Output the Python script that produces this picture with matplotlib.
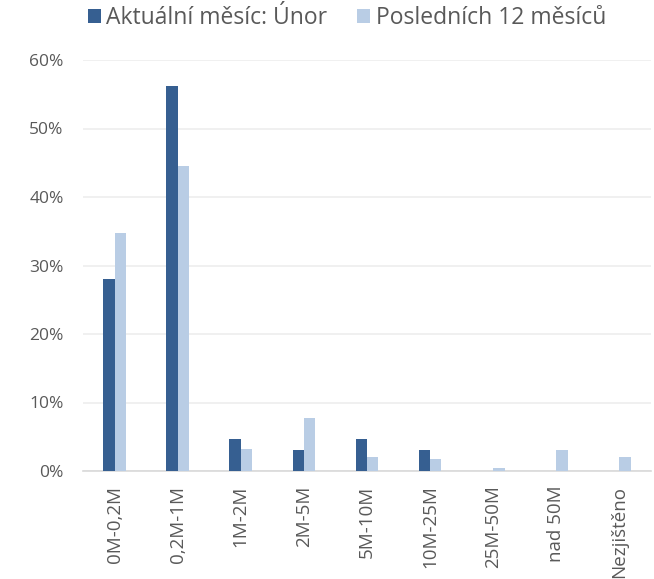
import matplotlib
matplotlib.use("Agg")
import matplotlib.pyplot as plt
import numpy as np
from matplotlib.ticker import PercentFormatter

categories = ["0M-0,2M", "0,2M-1M", "1M-2M", "2M-5M", "5M-10M", "10M-25M", "25M-50M", "nad 50M", "Nezjištěno"]
current = [28.1, 56.25, 4.69, 3.13, 4.69, 3.13, 0.0, 0.0, 0.0]
last12 = [34.7, 44.5, 3.15, 7.7, 2.1, 1.7, 0.45, 3.0, 2.0]
series_names = ["Aktuální měsíc: Únor", "Posledních 12 měsíců"]
yticks = [0, 10, 20, 30, 40, 50, 60]

dark = "#365F91"
light = "#B9CDE5"
grey = "#595959"

plt.rcParams['font.family'] = ['Open Sans', 'DejaVu Sans']

fig = plt.figure(figsize=(6.54, 5.79), dpi=100)
ax = fig.add_axes([83/654, 1-471/579, (651-83)/654, (471-60)/579])

x = np.arange(len(categories))
w = 0.18
b1 = ax.bar(x - w/2, current, w, color=dark, label=series_names[0], zorder=3)
b2 = ax.bar(x + w/2, last12, w, color=light, label=series_names[1], zorder=3)

ax.set_xlim(-0.5, len(categories) - 0.5)
ax.set_ylim(0, 60)
ax.set_yticks(yticks)
ax.yaxis.set_major_formatter(PercentFormatter(decimals=0))
ax.grid(axis='y', color='#EDEDED', linewidth=1.2, zorder=0)
for s in ['top', 'right', 'left']:
    ax.spines[s].set_visible(False)
ax.spines['bottom'].set_color('#D9D9D9')
ax.spines['bottom'].set_linewidth(1.2)
ax.tick_params(axis='both', length=0, colors=grey)
ax.tick_params(axis='y', pad=14, labelsize=12.5)
ax.tick_params(axis='x', pad=10.5, labelsize=13.5)
ax.set_xticks(x)
ax.set_xticklabels(categories, rotation=90, va='top', ha='center')

fig.legend(handles=[b1, b2], labels=series_names, loc='center left', bbox_to_anchor=(88/654, 1-18/579),
           ncol=2, frameon=False, fontsize=16.5, handlelength=0.55, handleheight=0.55,
           handletextpad=0.25, columnspacing=1.3, labelcolor=grey, borderaxespad=0, borderpad=0)

fig.savefig("out.png", dpi=100)
